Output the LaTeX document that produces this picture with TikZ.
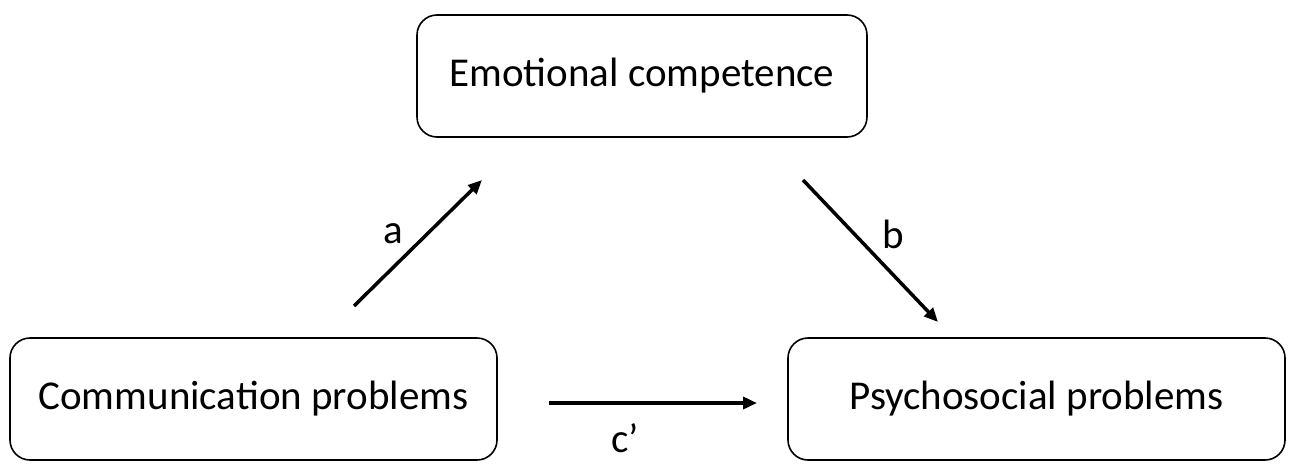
\documentclass[tikz,border=0pt]{standalone}
\usepackage{fontspec}
\setmainfont{Carlito}
\usetikzlibrary{arrows.meta}
\begin{document}
\begin{tikzpicture}[x=1pt,y=-1pt,
  box/.style={draw,line width=1.6pt,rounded corners=20pt,minimum height=122pt,font=\fontsize{41}{48}\selectfont},
  arr/.style={line width=3.5pt,-{Triangle[length=14pt,width=12pt]}},
  lab/.style={font=\fontsize{41}{48}\selectfont}]
\useasboundingbox (0,0) rectangle (1305,471);
\node[box,minimum width=450pt] (ec) at (642,76) {Emotional competence};
\node[box,minimum width=487pt] (cp) at (253.5,399) {Communication problems};
\node[box,minimum width=497pt] (pp) at (1036.5,399) {Psychosocial problems};
\coordinate (a1) at (354,306); \coordinate (a2) at (482,180);
\coordinate (b1) at (803,180); \coordinate (b2) at (938,322);
\coordinate (c1) at (549,403); \coordinate (c2) at (757,403);
\draw[arr] (a1) -- (a2);
\draw[arr] (b1) -- (b2);
\draw[arr] (c1) -- (c2);
\node[lab] (la) at (393,234) {a};
\node[lab] (lb) at (893,234) {b};
\node[lab] (lc) at (625,438) {c’};
\end{tikzpicture}
\end{document}
